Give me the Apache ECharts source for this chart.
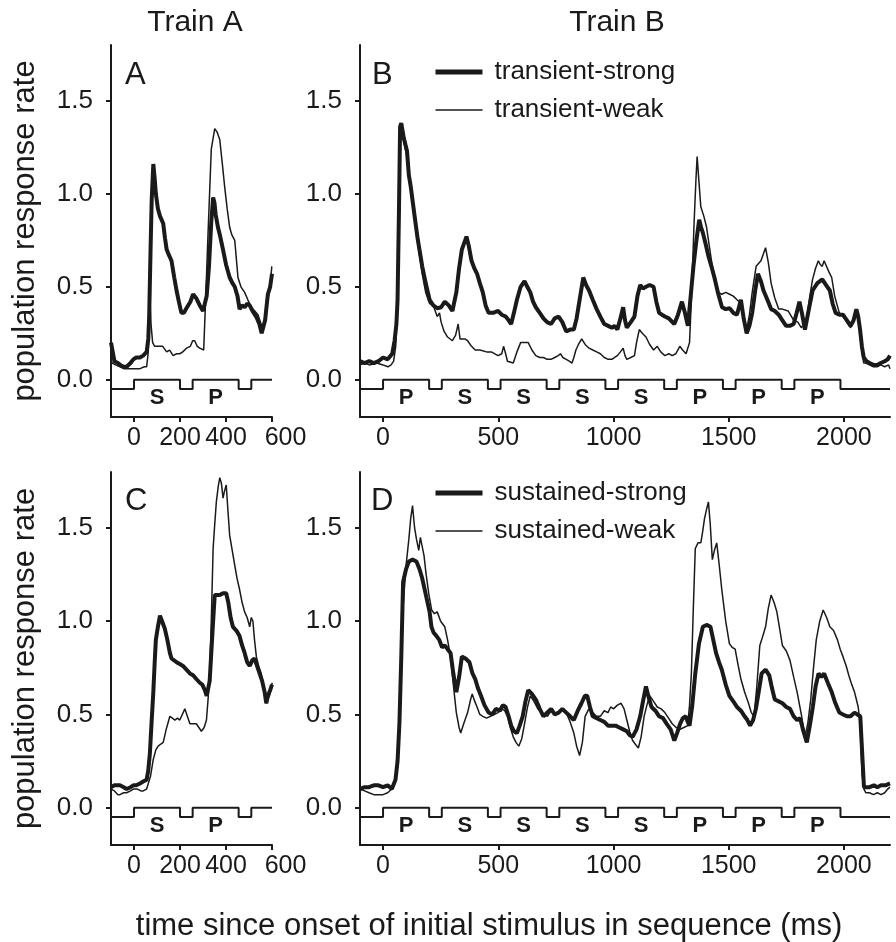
<!DOCTYPE html>
<html>
<head>
<meta charset="utf-8">
<title>population response rate</title>
<script src="https://cdn.jsdelivr.net/npm/echarts@6.0.0/dist/echarts.min.js"></script>
<style>
  html, body { margin: 0; padding: 0; background: #fff; }
  #chart { width: 896px; height: 942px; }
</style>
</head>
<body>
<div id="chart"></div>
<script>
// values: [time since onset (ms), population response rate]
const transStrongA = [[-100,0.20],[-95,0.19],[-85,0.10],[-70,0.09],[-60,0.08],[-45,0.07],[-32,0.07],[-15,0.09],[-3,0.11],[10,0.12],[26,0.12],[40,0.13],[55,0.15],[62,0.22],[66,0.34],[72,0.70],[77,0.97],[84,1.16],[90,1.08],[95,1.00],[104,0.92],[113,0.88],[127,0.84],[135,0.76],[142,0.70],[152,0.67],[163,0.64],[175,0.55],[185,0.48],[195,0.42],[206,0.36],[217,0.36],[228,0.385],[245,0.42],[257,0.46],[270,0.44],[286,0.40],[300,0.37],[308,0.36],[316,0.45],[326,0.61],[336,0.85],[344,0.98],[350,0.95],[355,0.89],[365,0.82],[375,0.77],[387,0.70],[400,0.62],[416,0.55],[428,0.52],[438,0.50],[450,0.45],[459,0.38],[470,0.40],[481,0.39],[492,0.41],[503,0.40],[515,0.37],[531,0.34],[545,0.30],[555,0.25],[560,0.24],[570,0.32],[582,0.46],[592,0.50],[600,0.57]];
const transWeakA = [[-100,0.12],[-95,0.09],[-80,0.08],[-61,0.07],[-45,0.06],[-32,0.06],[-15,0.06],[0,0.06],[26,0.06],[45,0.07],[55,0.07],[62,0.15],[69,0.45],[74,0.30],[81,0.20],[90,0.18],[98,0.19],[106,0.18],[113,0.17],[125,0.18],[142,0.15],[155,0.16],[170,0.13],[185,0.14],[199,0.14],[212,0.15],[228,0.17],[245,0.18],[255,0.21],[264,0.21],[275,0.18],[286,0.17],[303,0.16],[312,0.45],[322,0.79],[336,1.24],[351,1.35],[362,1.33],[373,1.29],[385,1.15],[394,1.04],[405,0.92],[416,0.82],[425,0.78],[438,0.75],[445,0.65],[452,0.55],[465,0.50],[481,0.47],[495,0.43],[510,0.39],[525,0.37],[539,0.35],[550,0.31],[560,0.27],[570,0.33],[582,0.43],[592,0.50],[599,0.61]];

const transStrongB = [[-100,0.10],[-80,0.09],[-60,0.10],[-40,0.09],[-20,0.10],[0,0.12],[20,0.11],[40,0.14],[50,0.21],[58,0.30],[63,0.43],[69,0.90],[74,1.36],[79,1.38],[90,1.30],[104,1.23],[112,1.10],[120,1.04],[137,0.88],[150,0.76],[170,0.61],[185,0.52],[202,0.43],[218,0.40],[235,0.385],[252,0.39],[268,0.42],[285,0.40],[301,0.37],[318,0.47],[330,0.60],[342,0.70],[362,0.77],[372,0.72],[384,0.64],[396,0.60],[408,0.57],[420,0.52],[433,0.47],[445,0.40],[458,0.36],[478,0.36],[499,0.37],[515,0.35],[532,0.34],[545,0.32],[556,0.30],[568,0.36],[581,0.43],[597,0.50],[614,0.53],[626,0.50],[639,0.47],[651,0.42],[663,0.39],[680,0.36],[696,0.33],[712,0.31],[729,0.30],[745,0.33],[762,0.34],[778,0.31],[795,0.26],[812,0.27],[828,0.27],[840,0.33],[853,0.43],[869,0.55],[881,0.51],[894,0.48],[910,0.43],[927,0.38],[943,0.34],[960,0.30],[977,0.29],[993,0.28],[1005,0.29],[1017,0.27],[1030,0.33],[1042,0.39],[1050,0.32],[1058,0.28],[1075,0.31],[1091,0.34],[1104,0.45],[1116,0.51],[1128,0.49],[1141,0.50],[1157,0.51],[1174,0.50],[1186,0.42],[1198,0.36],[1210,0.35],[1223,0.34],[1240,0.33],[1264,0.30],[1280,0.35],[1297,0.42],[1310,0.36],[1323,0.29],[1335,0.45],[1347,0.61],[1360,0.75],[1372,0.86],[1380,0.82],[1388,0.79],[1400,0.73],[1413,0.66],[1425,0.61],[1438,0.55],[1455,0.46],[1471,0.39],[1487,0.38],[1504,0.385],[1520,0.36],[1536,0.35],[1553,0.43],[1565,0.33],[1578,0.25],[1590,0.29],[1602,0.36],[1615,0.48],[1627,0.57],[1640,0.53],[1651,0.48],[1668,0.43],[1684,0.38],[1700,0.37],[1717,0.35],[1733,0.32],[1749,0.29],[1765,0.29],[1782,0.30],[1795,0.36],[1807,0.42],[1819,0.35],[1831,0.27],[1848,0.38],[1864,0.48],[1885,0.52],[1906,0.54],[1922,0.51],[1939,0.48],[1951,0.41],[1964,0.36],[1980,0.35],[1996,0.35],[2013,0.32],[2029,0.29],[2042,0.32],[2054,0.38],[2062,0.34],[2070,0.27],[2078,0.18],[2086,0.12],[2098,0.10],[2111,0.09],[2128,0.08],[2144,0.08],[2160,0.09],[2177,0.10],[2190,0.11],[2200,0.13]];
const transWeakB = [[-100,0.08],[-80,0.09],[-60,0.08],[-28,0.09],[0,0.08],[21,0.07],[35,0.08],[46,0.10],[55,0.18],[63,0.40],[69,0.95],[74,1.33],[79,1.36],[90,1.28],[104,1.20],[120,1.02],[137,0.86],[150,0.74],[170,0.57],[185,0.47],[202,0.41],[218,0.40],[235,0.34],[245,0.36],[252,0.31],[265,0.26],[280,0.23],[301,0.21],[315,0.24],[326,0.30],[334,0.22],[342,0.21],[355,0.22],[367,0.21],[384,0.18],[400,0.16],[420,0.16],[449,0.15],[470,0.15],[499,0.13],[515,0.14],[523,0.18],[532,0.14],[540,0.10],[565,0.09],[581,0.15],[597,0.20],[614,0.20],[630,0.20],[646,0.16],[663,0.13],[680,0.12],[696,0.12],[712,0.11],[729,0.11],[745,0.12],[760,0.13],[770,0.14],[780,0.12],[795,0.11],[808,0.10],[820,0.09],[828,0.12],[837,0.16],[848,0.19],[862,0.22],[877,0.19],[894,0.17],[910,0.16],[927,0.15],[943,0.14],[960,0.12],[977,0.11],[993,0.11],[1005,0.12],[1017,0.13],[1030,0.15],[1042,0.17],[1050,0.13],[1058,0.11],[1075,0.12],[1091,0.13],[1100,0.20],[1112,0.27],[1125,0.25],[1141,0.23],[1157,0.19],[1174,0.16],[1190,0.18],[1205,0.15],[1223,0.13],[1240,0.14],[1255,0.13],[1270,0.14],[1288,0.18],[1300,0.16],[1315,0.14],[1323,0.13],[1330,0.20],[1338,0.43],[1350,0.85],[1358,1.08],[1363,1.20],[1370,1.08],[1379,0.93],[1392,0.88],[1404,0.82],[1417,0.71],[1429,0.61],[1441,0.53],[1454,0.47],[1470,0.46],[1487,0.47],[1504,0.46],[1520,0.45],[1536,0.43],[1553,0.41],[1565,0.33],[1578,0.27],[1590,0.35],[1602,0.47],[1619,0.61],[1640,0.64],[1660,0.71],[1672,0.63],[1684,0.52],[1700,0.44],[1717,0.38],[1733,0.38],[1758,0.37],[1782,0.32],[1800,0.31],[1815,0.28],[1828,0.30],[1840,0.34],[1852,0.45],[1864,0.54],[1877,0.60],[1889,0.64],[1897,0.62],[1906,0.61],[1914,0.64],[1922,0.65],[1935,0.58],[1947,0.55],[1960,0.45],[1980,0.36],[1996,0.34],[2013,0.31],[2029,0.28],[2042,0.31],[2054,0.36],[2062,0.33],[2070,0.26],[2078,0.15],[2086,0.09],[2095,0.09],[2111,0.08],[2128,0.07],[2144,0.07],[2160,0.08],[2177,0.07],[2194,0.08],[2200,0.06]];

const sustStrongA = [[-100,0.11],[-85,0.12],[-61,0.12],[-45,0.11],[-32,0.10],[-15,0.11],[-3,0.12],[10,0.12],[26,0.13],[40,0.14],[55,0.15],[62,0.20],[69,0.29],[76,0.45],[84,0.62],[90,0.78],[95,0.90],[104,0.97],[113,1.03],[122,1.00],[134,0.96],[145,0.90],[156,0.83],[163,0.80],[170,0.79],[185,0.78],[199,0.77],[213,0.76],[228,0.74],[243,0.72],[257,0.71],[271,0.69],[286,0.67],[297,0.66],[308,0.63],[316,0.60],[322,0.60],[329,0.68],[336,0.83],[344,1.00],[351,1.14],[362,1.14],[373,1.14],[387,1.15],[401,1.15],[410,1.10],[420,1.02],[430,0.97],[445,0.95],[459,0.92],[470,0.87],[481,0.83],[492,0.78],[503,0.76],[514,0.79],[524,0.80],[535,0.76],[546,0.72],[557,0.68],[568,0.62],[575,0.56],[582,0.60],[592,0.63],[600,0.66]];
const sustWeakA = [[-100,0.10],[-85,0.09],[-70,0.07],[-61,0.07],[-45,0.08],[-32,0.08],[-15,0.09],[-3,0.10],[15,0.10],[30,0.09],[40,0.09],[55,0.10],[62,0.11],[72,0.17],[84,0.26],[95,0.31],[105,0.33],[115,0.34],[127,0.35],[140,0.42],[156,0.49],[167,0.48],[178,0.47],[189,0.48],[199,0.47],[210,0.50],[221,0.53],[232,0.49],[243,0.45],[257,0.45],[271,0.45],[282,0.43],[293,0.41],[305,0.43],[315,0.47],[322,0.58],[329,0.72],[336,1.00],[344,1.39],[351,1.52],[358,1.64],[366,1.72],[373,1.77],[380,1.74],[387,1.66],[394,1.70],[401,1.73],[408,1.60],[416,1.46],[427,1.38],[438,1.30],[448,1.23],[459,1.17],[470,1.10],[481,1.05],[492,1.02],[503,0.97],[510,1.02],[517,1.00],[524,0.90],[532,0.81],[542,0.76],[553,0.72],[564,0.64],[575,0.56],[582,0.55],[589,0.60],[601,0.67]];

const sustStrongB = [[-100,0.10],[-80,0.11],[-61,0.11],[-40,0.12],[-20,0.12],[0,0.11],[20,0.12],[38,0.10],[54,0.15],[63,0.25],[71,0.45],[79,0.80],[87,1.21],[100,1.28],[112,1.32],[128,1.33],[145,1.32],[158,1.28],[170,1.23],[186,1.14],[202,1.05],[210,0.97],[219,0.94],[232,0.92],[244,0.90],[256,0.86],[268,0.87],[280,0.85],[293,0.83],[305,0.72],[318,0.62],[330,0.70],[342,0.81],[358,0.80],[375,0.78],[388,0.72],[400,0.69],[412,0.64],[425,0.60],[440,0.55],[458,0.51],[474,0.50],[490,0.53],[507,0.52],[520,0.55],[532,0.54],[545,0.49],[556,0.44],[568,0.41],[581,0.40],[593,0.44],[606,0.49],[618,0.57],[630,0.63],[646,0.61],[663,0.58],[680,0.53],[696,0.49],[712,0.51],[729,0.53],[745,0.50],[762,0.51],[778,0.53],[795,0.51],[812,0.49],[828,0.47],[845,0.52],[861,0.56],[876,0.60],[886,0.60],[898,0.54],[910,0.49],[927,0.48],[943,0.47],[960,0.46],[976,0.44],[993,0.44],[1009,0.44],[1025,0.43],[1042,0.42],[1058,0.41],[1070,0.39],[1083,0.38],[1100,0.42],[1116,0.49],[1128,0.57],[1141,0.65],[1153,0.59],[1165,0.54],[1182,0.52],[1198,0.49],[1215,0.48],[1231,0.45],[1248,0.42],[1264,0.36],[1276,0.40],[1289,0.45],[1301,0.48],[1314,0.49],[1322,0.46],[1330,0.44],[1342,0.55],[1355,0.72],[1371,0.88],[1388,0.97],[1404,0.98],[1421,0.97],[1433,0.90],[1445,0.83],[1458,0.78],[1470,0.74],[1487,0.66],[1503,0.60],[1520,0.57],[1536,0.54],[1553,0.52],[1569,0.49],[1581,0.47],[1593,0.44],[1606,0.47],[1618,0.53],[1630,0.62],[1643,0.72],[1660,0.74],[1676,0.71],[1688,0.64],[1700,0.58],[1717,0.57],[1733,0.56],[1750,0.54],[1766,0.53],[1782,0.49],[1797,0.47],[1810,0.48],[1822,0.42],[1839,0.35],[1852,0.44],[1865,0.54],[1877,0.65],[1890,0.72],[1902,0.70],[1914,0.72],[1930,0.67],[1947,0.62],[1963,0.56],[1980,0.51],[1996,0.50],[2013,0.49],[2029,0.49],[2046,0.51],[2058,0.50],[2071,0.49],[2079,0.30],[2087,0.11],[2100,0.11],[2111,0.11],[2130,0.12],[2145,0.11],[2161,0.12],[2180,0.12],[2200,0.13]];
const sustWeakB = [[-100,0.10],[-80,0.09],[-61,0.08],[-40,0.07],[-20,0.07],[0,0.07],[20,0.08],[38,0.10],[54,0.14],[63,0.22],[71,0.42],[79,0.75],[87,1.08],[100,1.30],[112,1.44],[120,1.55],[128,1.62],[137,1.50],[145,1.44],[155,1.38],[162,1.45],[170,1.44],[178,1.35],[186,1.26],[198,1.15],[211,1.06],[223,1.04],[235,1.05],[250,1.00],[268,0.97],[280,0.90],[293,0.81],[305,0.66],[318,0.51],[330,0.43],[337,0.40],[350,0.45],[367,0.51],[380,0.58],[387,0.61],[398,0.57],[408,0.54],[420,0.50],[433,0.49],[449,0.48],[466,0.49],[482,0.50],[499,0.51],[515,0.53],[528,0.52],[540,0.49],[552,0.43],[565,0.38],[577,0.35],[589,0.33],[602,0.37],[614,0.45],[627,0.54],[639,0.60],[655,0.57],[672,0.53],[690,0.51],[713,0.49],[730,0.52],[745,0.50],[762,0.51],[779,0.53],[795,0.51],[812,0.46],[828,0.40],[840,0.33],[853,0.28],[865,0.35],[877,0.49],[893,0.53],[910,0.51],[926,0.49],[943,0.49],[960,0.52],[976,0.51],[988,0.54],[1000,0.53],[1017,0.55],[1033,0.56],[1046,0.53],[1058,0.47],[1070,0.41],[1083,0.36],[1095,0.34],[1108,0.32],[1120,0.38],[1133,0.49],[1145,0.55],[1157,0.60],[1174,0.57],[1190,0.54],[1207,0.53],[1223,0.51],[1239,0.48],[1255,0.45],[1272,0.43],[1289,0.42],[1305,0.43],[1322,0.44],[1330,0.55],[1338,0.72],[1346,1.05],[1355,1.39],[1367,1.42],[1379,1.42],[1387,1.48],[1395,1.55],[1404,1.60],[1412,1.64],[1420,1.52],[1429,1.33],[1438,1.38],[1448,1.42],[1459,1.30],[1470,1.17],[1487,1.00],[1503,0.88],[1515,0.86],[1528,0.85],[1540,0.77],[1553,0.69],[1569,0.62],[1586,0.56],[1598,0.51],[1610,0.49],[1622,0.65],[1635,0.87],[1648,0.92],[1660,0.97],[1672,1.07],[1684,1.14],[1697,1.10],[1709,1.05],[1721,0.96],[1733,0.87],[1750,0.84],[1766,0.79],[1782,0.70],[1797,0.62],[1815,0.50],[1831,0.38],[1843,0.45],[1856,0.58],[1868,0.75],[1880,0.90],[1895,1.00],[1910,1.06],[1925,1.02],[1939,0.97],[1955,0.95],[1972,0.90],[1984,0.85],[1996,0.81],[2010,0.76],[2021,0.71],[2034,0.66],[2046,0.62],[2054,0.58],[2062,0.54],[2070,0.45],[2079,0.18],[2087,0.10],[2095,0.08],[2111,0.08],[2128,0.07],[2145,0.08],[2161,0.07],[2177,0.08],[2190,0.10],[2200,0.11]];

// stimulus sequences (onset times, ms) and their labels
const stimOnsetsA = [0, 255, 510];
const stimLabelsA = ['S', 'P'];
const stimOnsetsB = [0, 255, 510, 765, 1020, 1275, 1530, 1785];
const stimLabelsB = ['P', 'S', 'S', 'S', 'S', 'P', 'P', 'P'];
const stimDuration = 200;

// axes
const xRangeA = [-100, 600];
const xRangeB = [-100, 2200];
const xTicksA = [0, 200, 400, 600];
const xTicksB = [0, 500, 1000, 1500, 2000];
const yRange = [-0.2, 1.8];
const yTicks = [0, 0.5, 1.0, 1.5];

const FONT = '"Liberation Sans", Arial, Helvetica, sans-serif';
const INK = '#1a1a1a';

// step trace of the stimulus: -0.05 when off, 0 while a stimulus is shown
function stimTrace(onsets, range) {
    const pts = [[range[0], -0.05]];
    onsets.forEach(t => {
        const off = Math.min(t + stimDuration, range[1]);
        pts.push([t, -0.05], [t, 0], [off, 0]);
        if (off < range[1]) pts.push([off, -0.05]);
    });
    const last = pts[pts.length - 1];
    if (last[0] < range[1]) pts.push([range[1], last[1]]);
    return pts;
}

function stimMarks(onsets, labels) {
    return labels.map((s, i) => ({ value: [onsets[i] + stimDuration / 2, -0.1], name: s }));
}

const grids = [
    { left: 111, top: 45, width: 161, height: 372 },
    { left: 360, top: 45, width: 530, height: 372 },
    { left: 111, top: 472, width: 161, height: 373 },
    { left: 360, top: 472, width: 530, height: 373 },
];

function xAxis(i, range, ticks) {
    return {
        type: 'value', gridIndex: i, min: range[0], max: range[1],
        splitLine: { show: false },
        axisLine: { onZero: false, lineStyle: { color: INK, width: 2 } },
        axisTick: { customValues: ticks, length: 5, lineStyle: { color: INK, width: 2 } },
        axisLabel: {
            customValues: ticks, margin: 9, color: INK, fontSize: 25, fontFamily: FONT,
            // the last label of the narrow panels sits right of its tick
            formatter: v => (range[1] === 600 && v === 600 ? '{r|600}' : String(v)),
            rich: { r: { fontSize: 25, fontFamily: FONT, color: INK, padding: [0, 0, 0, 27] } },
        },
    };
}

function yAxis(i, named) {
    return {
        type: 'value', gridIndex: i, min: yRange[0], max: yRange[1],
        splitLine: { show: false },
        axisLine: { onZero: false, lineStyle: { color: INK, width: 2 } },
        axisTick: { customValues: yTicks, length: 5, lineStyle: { color: INK, width: 2 } },
        axisLabel: {
            customValues: yTicks, margin: 18, color: INK, fontSize: 26, fontFamily: FONT,
            formatter: v => v.toFixed(1),
        },
        name: named ? 'population response rate' : '',
        nameLocation: 'middle', nameGap: 70,
        nameTextStyle: { fontSize: 31, fontFamily: FONT, color: INK },
    };
}

function curve(name, i, data, width) {
    return {
        name, type: 'line', xAxisIndex: i, yAxisIndex: i, data,
        showSymbol: false, symbol: 'none', z: width > 2 ? 4 : 3,
        lineStyle: { color: INK, width }, itemStyle: { color: INK },
    };
}

function stimSeries(i, onsets, labels, range) {
    return [
        {
            type: 'line', xAxisIndex: i, yAxisIndex: i, data: stimTrace(onsets, range),
            showSymbol: false, symbol: 'none', silent: true,
            lineStyle: { color: INK, width: 2 },
        },
        {
            type: 'scatter', xAxisIndex: i, yAxisIndex: i, data: stimMarks(onsets, labels),
            symbolSize: 0, silent: true, itemStyle: { color: INK, opacity: 1 },
            label: {
                show: true, position: 'inside', formatter: '{b}', color: INK, opacity: 1,
                textBorderWidth: 0, fontSize: 22, fontWeight: 'bold', fontFamily: FONT,
            },
        },
    ];
}

function panelText(text, x, y, size, align) {
    return {
        type: 'text', x, y,
        style: { text, fill: INK, font: size + 'px ' + FONT, align: align || 'left', verticalAlign: 'middle' },
    };
}

function legend(names, top) {
    return {
        data: [
            { name: names[0], lineStyle: { width: 5 } },
            { name: names[1], lineStyle: { width: 1.5 } },
        ],
        orient: 'vertical', left: 433, top, padding: 0,
        itemWidth: 47, itemHeight: 14, itemGap: 12, selectedMode: false,
        itemStyle: { opacity: 0 },
        textStyle: { fontSize: 26, lineHeight: 26, fontFamily: FONT, color: INK, padding: [0, 0, 0, 7] },
    };
}

const chart = echarts.init(document.getElementById('chart'), null, { renderer: 'canvas' });
chart.setOption({
    animation: false,
    backgroundColor: '#fff',
    grid: grids,
    xAxis: [xAxis(0, xRangeA, xTicksA), xAxis(1, xRangeB, xTicksB), xAxis(2, xRangeA, xTicksA), xAxis(3, xRangeB, xTicksB)],
    yAxis: [yAxis(0, true), yAxis(1, false), yAxis(2, true), yAxis(3, false)],
    legend: [
        legend(['transient-strong', 'transient-weak'], 59),
        legend(['sustained-strong', 'sustained-weak'], 480),
    ],
    series: [
        curve('transient-weak', 0, transWeakA, 1.5),
        curve('transient-strong', 0, transStrongA, 4),
        curve('transient-weak', 1, transWeakB, 1.5),
        curve('transient-strong', 1, transStrongB, 4),
        curve('sustained-weak', 2, sustWeakA, 1.5),
        curve('sustained-strong', 2, sustStrongA, 4),
        curve('sustained-weak', 3, sustWeakB, 1.5),
        curve('sustained-strong', 3, sustStrongB, 4),
        ...stimSeries(0, stimOnsetsA, stimLabelsA, xRangeA),
        ...stimSeries(1, stimOnsetsB, stimLabelsB, xRangeB),
        ...stimSeries(2, stimOnsetsA, stimLabelsA, xRangeA),
        ...stimSeries(3, stimOnsetsB, stimLabelsB, xRangeB),
    ],
    graphic: [
        panelText('Train A', 195, 23, 30, 'center'),
        panelText('Train B', 617, 23, 30, 'center'),
        panelText('A', 125, 75, 31),
        panelText('B', 372, 75, 31),
        panelText('C', 125, 501, 31),
        panelText('D', 371, 501, 31),
        panelText('time since onset of initial stimulus in sequence (ms)', 489, 926, 31, 'center'),
    ],
});
</script>
</body>
</html>
